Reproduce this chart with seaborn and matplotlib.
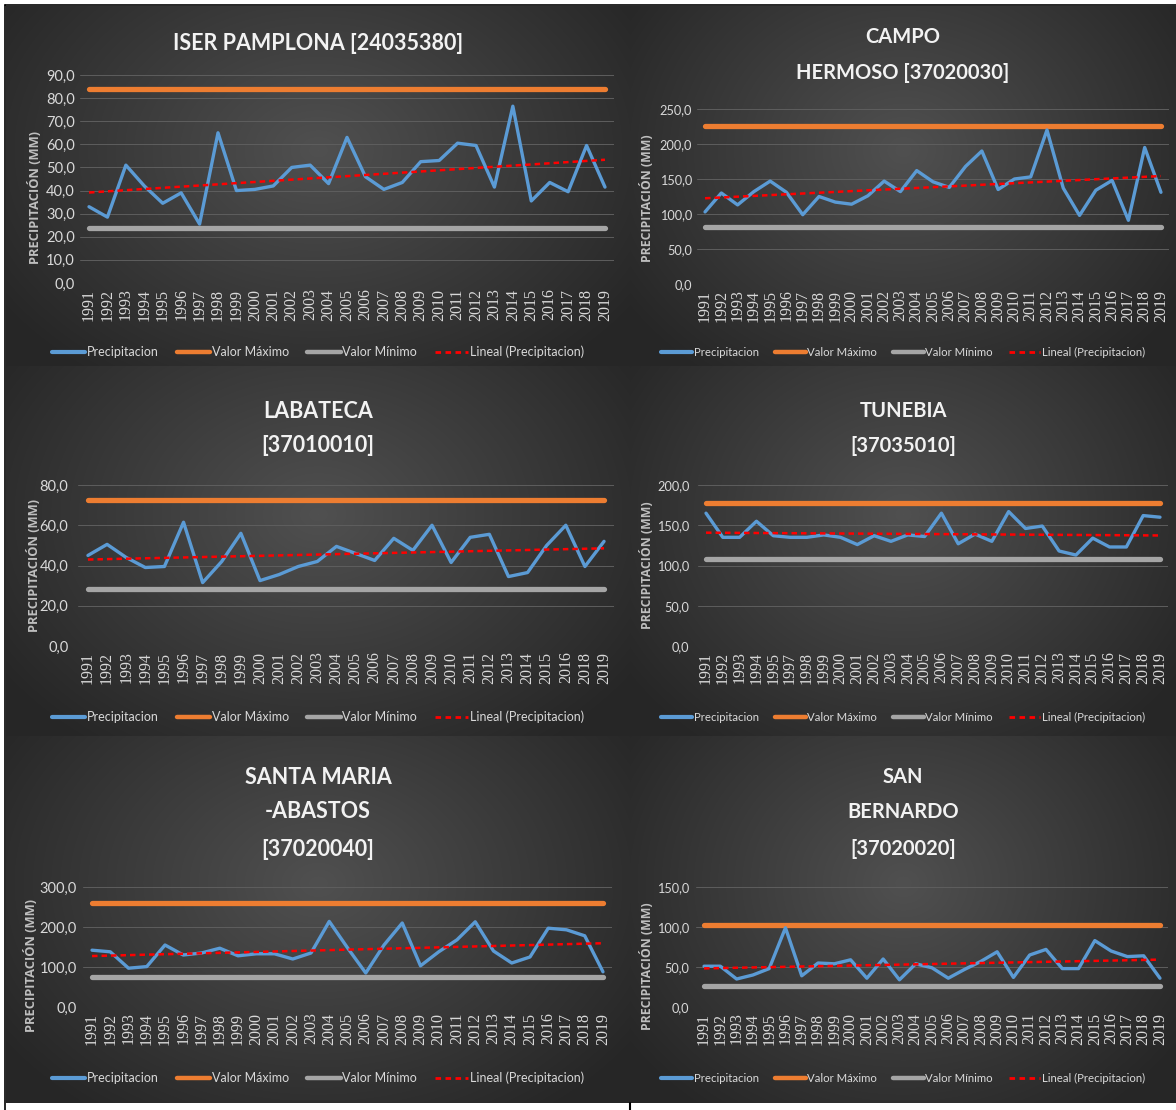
import numpy as np
import pandas as pd
import matplotlib
matplotlib.use("Agg")
import matplotlib.pyplot as plt
from matplotlib.lines import Line2D
import seaborn as sns

# ---------------- DATA ----------------
years_full = [str(y) for y in range(1991, 2020)]
years_labateca = [str(y) for y in range(1991, 2017)] + ["2018", "2019"]
years_tunebia = [str(y) for y in range(1991, 1996)] + [str(y) for y in range(1997, 2020)]

iser_title = ["ISER PAMPLONA [24035380]"]
iser_prec = [33, 28.5, 51, 42, 34.5, 39, 25.5, 65, 40, 40.5, 42, 50, 51, 43, 63,
             46, 40.5, 43.5, 52.5, 53, 60.5, 59.5, 41.5, 76.5, 35.5, 43.5, 39.5, 59.5, 41.5]
iser_max = 84.0
iser_min = 24.0
iser_ticks = [0, 10, 20, 30, 40, 50, 60, 70, 80, 90]

campo_title = ["CAMPO", "HERMOSO [37020030]"]
campo_prec = [103, 130, 113, 132, 147, 131, 99, 125, 117, 114, 126, 147, 132, 162, 146,
              138, 168, 190, 135, 150, 153, 220, 137, 98, 134, 148, 91, 195, 131]
campo_max = 226.0
campo_min = 81.0
campo_ticks = [0, 50, 100, 150, 200, 250]

labateca_title = ["LABATECA", "[37010010]"]
labateca_prec = [45, 50.5, 44, 39, 39.5, 61.5, 31.5, 42, 56, 32.5, 35.5, 39.5, 42, 49.5,
                 46, 42.5, 53.5, 47.5, 60, 41.5, 54, 55.5, 34.5, 36.5, 50, 60, 39.5, 52]
labateca_max = 72.5
labateca_min = 28.5
labateca_ticks = [0, 20, 40, 60, 80]

tunebia_title = ["TUNEBIA", "[37035010]"]
tunebia_prec = [165, 135, 135, 155, 137, 135, 135, 138, 135, 126, 137, 130, 138, 136,
                165, 127, 139, 130, 167, 146, 149, 118, 113, 134, 123, 123, 162, 160]
tunebia_max = 178.0
tunebia_min = 108.0
tunebia_ticks = [0, 50, 100, 150, 200]

santa_title = ["SANTA MARIA", "-ABASTOS", "[37020040]"]
santa_prec = [142, 138, 97, 101, 155, 130, 135, 147, 128, 133, 133, 120, 135, 214, 148,
              85, 155, 210, 103, 138, 168, 213, 140, 110, 125, 197, 193, 178, 88]
santa_max = 260.0
santa_min = 75.0
santa_ticks = [0, 100, 200, 300]

sanb_title = ["SAN", "BERNARDO", "[37020020]"]
sanb_prec = [51, 51, 35, 40, 48, 99, 39, 55, 54, 59, 36, 60, 34, 54, 49, 36, 47, 57,
             69, 37, 65, 72, 48, 48, 83, 70, 63, 64, 36]
sanb_max = 103.0
sanb_min = 26.0
sanb_ticks = [0, 50, 100, 150]

legend_labels = ["Precipitacion", "Valor Máximo", "Valor Mínimo", "Lineal (Precipitacion)"]
ylabel_text = "PRECIPITACIÓN (MM)"

# ---------------- STYLE ----------------
sns.set_theme(style="dark")
plt.rcParams["font.family"] = ["Lato", "DejaVu Sans"]

W, H = 1176, 1110
fig = plt.figure(figsize=(W / 100, H / 100), dpi=100)
fig.patch.set_facecolor("white")

BLUE = "#5b9bd5"
ORANGE = "#ed7d31"
GRAY = "#a5a5a5"
RED = "#ff0000"
TXT = "#d9d9d9"

col_x = [(6, 630), (630, 1176)]
row_y = [(6, 366), (366, 736), (736, 1103)]

# background axes with radial gradients
bg = fig.add_axes([0, 0, 1, 1], zorder=-10)
img = np.ones((H, W, 3))
yy, xx = np.mgrid[0:H, 0:W]
for (x0, x1) in col_x:
    for (y0, y1) in row_y:
        cx, cy = (x0 + x1) / 2, y0 + (y1 - y0) * 0.40
        rx, ry = (x1 - x0) * 0.62, (y1 - y0) * 0.78
        sub = (slice(y0, y1), slice(x0, x1))
        r = np.sqrt(((xx[sub] - cx) / rx) ** 2 + ((yy[sub] - cy) / ry) ** 2)
        r = np.clip(r, 0, 1)
        v = (0x50 + (0x26 - 0x50) * r) / 255.0
        img[sub] = v[..., None]
bg.imshow(img, extent=[0, W, H, 0], aspect="auto", interpolation="bilinear")
bg.set_xlim(0, W)
bg.set_ylim(H, 0)
bg.plot([5, W], [5, 5], color="black", lw=1.2)
bg.plot([5, 5], [5, H], color="black", lw=1.2)
bg.plot([630, 630], [1103, H], color="black", lw=1.5)
bg.axis("off")


def px_rect(x0, y0, x1, y1):
    return [x0 / W, 1 - y1 / H, (x1 - x0) / W, (y1 - y0) / H]


panels = [
    (iser_title, years_full, iser_prec, iser_max, iser_min, iser_ticks),
    (campo_title, years_full, campo_prec, campo_max, campo_min, campo_ticks),
    (labateca_title, years_labateca, labateca_prec, labateca_max, labateca_min, labateca_ticks),
    (tunebia_title, years_tunebia, tunebia_prec, tunebia_max, tunebia_min, tunebia_ticks),
    (santa_title, years_full, santa_prec, santa_max, santa_min, santa_ticks),
    (sanb_title, years_full, sanb_prec, sanb_max, sanb_min, sanb_ticks),
]

# layout (pixels)
ax_boxes = [(79.8, 75, 614.2, 283), (696.9, 109, 1169.1, 284),
            (78.4, 485, 613.6, 646), (697.6, 485, 1168.4, 646),
            (82.9, 887, 612.1, 1007), (695.9, 887, 1168.1, 1007)]
ytick_pad_px = [5, 5, 10, 8, 6, 7]
title_lines_y = [[43], [37, 73], [411, 446], [411, 446], [777, 812, 849], [777, 812, 849]]
legend_y = [352, 352, 717, 717, 1078, 1078]
ylabel_pos = [(35, 197), (647, 198), (34, 565), (647, 565), (31, 966), (647, 966)]

for i, (title, years, prec, vmax, vmin, ticks) in enumerate(panels):
    c = i % 2
    x0, y0, x1, y1 = ax_boxes[i]
    ax = fig.add_axes(px_rect(x0, y0, x1, y1))
    ax.set_facecolor("none")
    n = len(years)
    df = pd.DataFrame({"pos": np.arange(n), "prec": prec,
                       "vmax": [vmax] * n, "vmin": [vmin] * n})
    sns.lineplot(data=df, x="pos", y="vmax", ax=ax, color=ORANGE, lw=3.8,
                 solid_capstyle="round", zorder=3)
    sns.lineplot(data=df, x="pos", y="vmin", ax=ax, color=GRAY, lw=3.8,
                 solid_capstyle="round", zorder=3)
    sns.lineplot(data=df, x="pos", y="prec", ax=ax, color=BLUE, lw=2.4,
                 solid_capstyle="round", zorder=4)
    sns.regplot(data=df, x="pos", y="prec", ax=ax, scatter=False, ci=None,
                line_kws=dict(color=RED, lw=1.8, ls=(0, (2.2, 1.6)), zorder=5))
    ax.set_xlim(-0.5, n - 0.5)
    ax.set_ylim(ticks[0], ticks[-1])
    ax.set_yticks(ticks)
    ax.set_yticklabels([f"{t:.1f}".replace(".", ",") for t in ticks],
                       fontsize=10.5 if c == 0 else 9.2, color=TXT, fontfamily="Lato")
    ax.set_xticks(np.arange(n))
    ax.set_xticklabels(years, rotation=90, fontsize=11.5, color=TXT,
                       fontfamily="Liberation Serif")
    ax.tick_params(axis="x", length=0, pad=4)
    ax.tick_params(axis="y", length=0, pad=ytick_pad_px[i] * 0.72)
    ax.grid(axis="y", color="#5e5e5e", lw=0.7)
    ax.grid(axis="x", visible=False)
    for s in ax.spines.values():
        s.set_visible(False)
    ax.set_xlabel("")
    ax.set_ylabel("")
    lx, ly = ylabel_pos[i]
    fig.text(lx / W, 1 - ly / H, ylabel_text, rotation=90, ha="center", va="center",
             fontsize=9.3 if c == 0 else 8.8, color="#bfbfbf", fontweight="bold",
             fontfamily="Open Sans")

    pcx = (col_x[c][0] + col_x[c][1]) / 2
    for line, ty in zip(title, title_lines_y[i]):
        fig.text(pcx / W, 1 - ty / H, line, ha="center", va="center",
                 fontsize=15.5 if c == 0 else 14.5, fontweight="bold",
                 color="#f2f2f2", fontfamily="Lato")

    handles = [
        Line2D([], [], color=BLUE, lw=3),
        Line2D([], [], color=ORANGE, lw=3.2),
        Line2D([], [], color=GRAY, lw=3.2),
        Line2D([], [], color=RED, lw=2, ls=(0, (2, 1.6))),
    ]
    fs = 9.0 if c == 0 else 8.2
    fig.legend(handles, legend_labels, loc="center",
               bbox_to_anchor=(pcx / W, 1 - legend_y[i] / H), ncol=4, frameon=False,
               prop={"family": "Lato", "size": fs}, labelcolor=TXT,
               handlelength=2.7, handletextpad=0.15, columnspacing=1.4)

fig.savefig("out.png", dpi=100, facecolor="white")
